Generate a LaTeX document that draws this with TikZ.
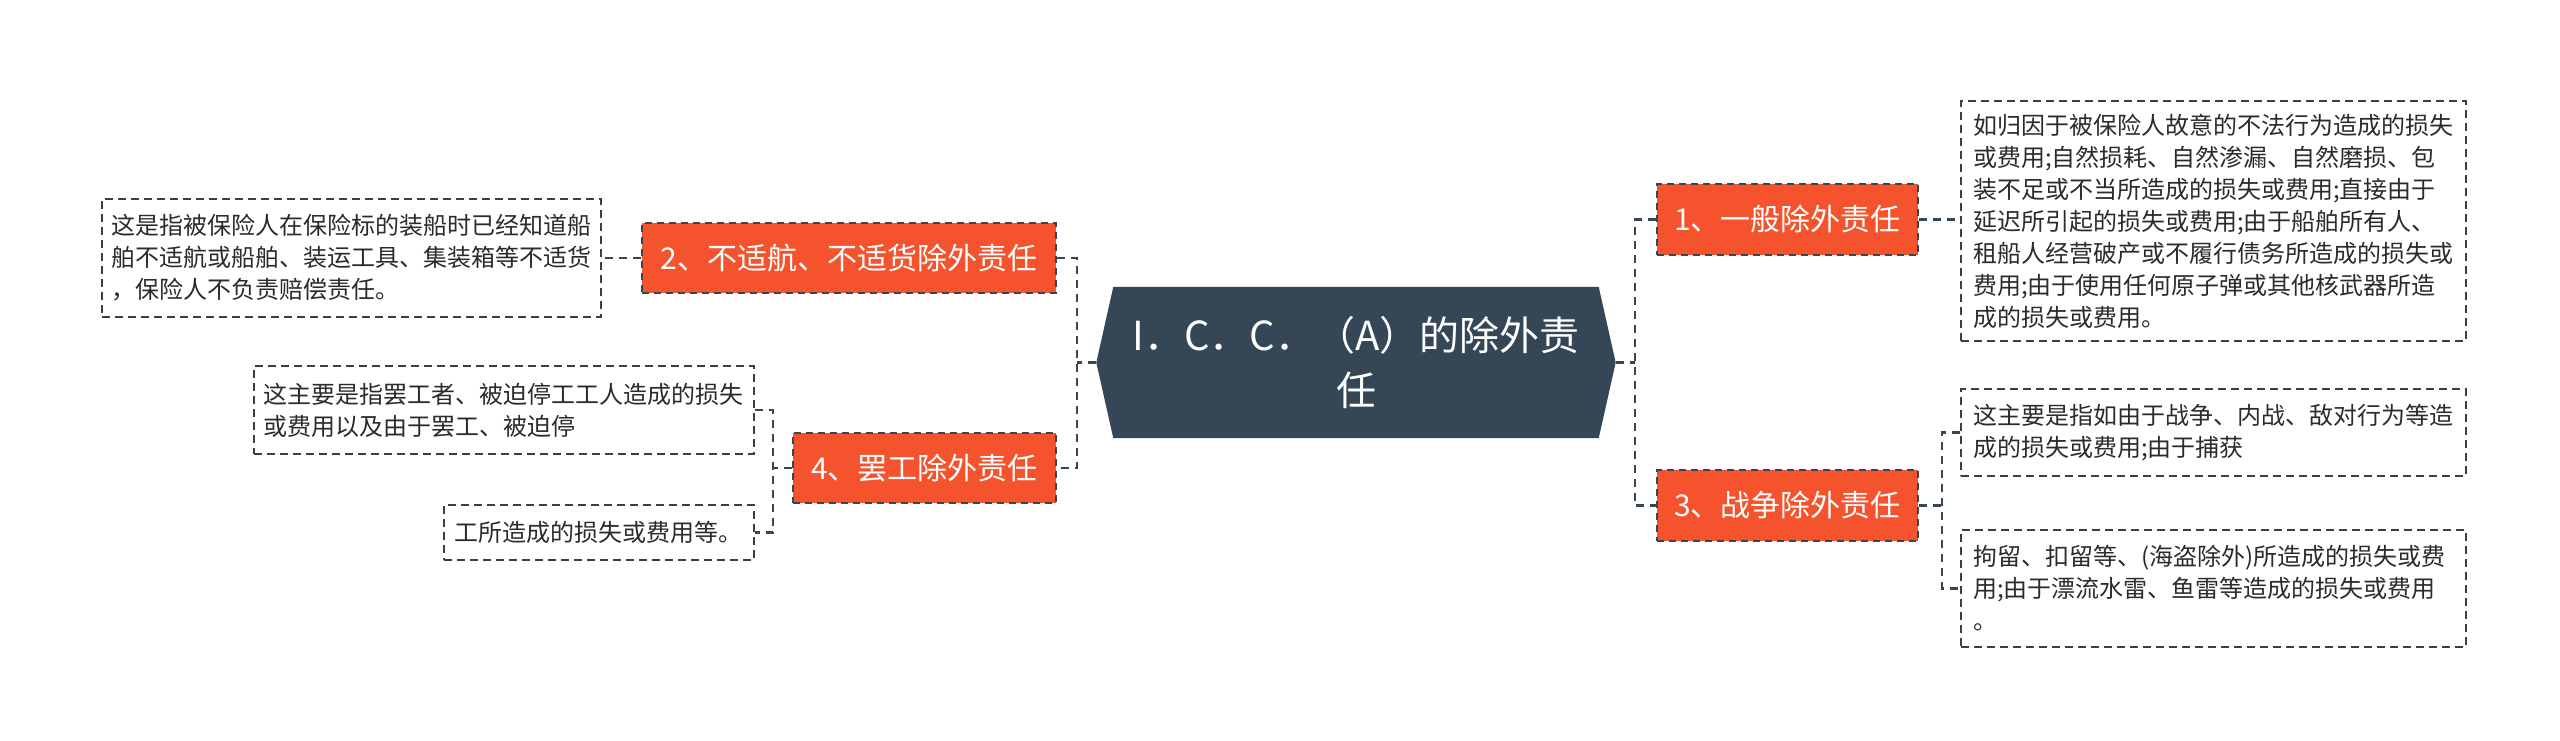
\documentclass[tikz,border=0pt]{standalone}
\usepackage{fontspec}
\setmainfont{Noto Sans CJK SC}
\pgfdeclarelayer{bg}
\pgfsetlayers{bg,main}
\definecolor{orng}{HTML}{F4532E}
\definecolor{slate}{HTML}{354657}
\definecolor{bord}{HTML}{3A3F45}
\definecolor{txt}{HTML}{2B2B2B}
\tikzset{
 centre/.style={text=white, font=\fontsize{40}{55}\selectfont, align=center, inner sep=0pt, minimum width=519pt, minimum height=151pt},
 topic/.style={fill=orng, draw=slate, dash pattern=on 7pt off 5pt, line width=2pt, text=white, font=\fontsize{30}{36}\selectfont, inner sep=0pt},
 leaf/.style={draw=bord, dash pattern=on 8pt off 5pt, line width=1.8pt, text=txt, font=\fontsize{24}{32}\selectfont, align=left, inner sep=0pt},
 conn/.style={draw=slate, dash pattern=on 8pt off 6pt, line width=2.5pt},
}
\begin{document}
\begin{tikzpicture}[x=1pt,y=-1pt]
\useasboundingbox (0,0) rectangle (2560,740);
\begin{pgfonlayer}{bg}
\fill[white] (0,0) rectangle (2560,740);
\end{pgfonlayer}

% centre
\node[centre] (c) at (1356,362.5) {I．C．C．（A）的除外责\\任};
\begin{pgfonlayer}{bg}
\fill[slate] (c.west) -- ([xshift=17pt]c.north west) -- ([xshift=-17pt]c.north east) -- (c.east) -- ([xshift=-17pt]c.south east) -- ([xshift=17pt]c.south west) -- cycle;
\end{pgfonlayer}

% topics
\node[topic, minimum width=261pt, minimum height=71pt] (n1) at (1787.5,219.5) {1、一般除外责任};
\node[topic, minimum width=261pt, minimum height=71pt] (n3) at (1787.5,505.5) {3、战争除外责任};
\node[topic, minimum width=414pt, minimum height=70pt] (n2) at (849,258) {2、不适航、不适货除外责任};
\node[topic, minimum width=263pt, minimum height=70pt] (n4) at (924.5,468) {4、罢工除外责任};

% leaves
\node[leaf, text width=481pt, minimum width=505pt, minimum height=240pt] (b1) at (2213.5,221) {如归因于被保险人故意的不法行为造成的损失\\或费用;自然损耗、自然渗漏、自然磨损、包\\装不足或不当所造成的损失或费用;直接由于\\延迟所引起的损失或费用;由于船舶所有人、\\租船人经营破产或不履行债务所造成的损失或\\费用;由于使用任何原子弹或其他核武器所造\\成的损失或费用。};
\node[leaf, text width=481pt, minimum width=505pt, minimum height=87pt] (b3a) at (2213.5,432.5) {这主要是指如由于战争、内战、敌对行为等造\\成的损失或费用;由于捕获};
\node[leaf, text width=481pt, minimum width=505pt, minimum height=117pt] (b3b) at (2213.5,588.5) {拘留、扣留等、(海盗除外)所造成的损失或费\\用;由于漂流水雷、鱼雷等造成的损失或费用\\。};
\node[leaf, text width=481pt, minimum width=499pt, minimum height=118pt] (b2) at (351.5,258) {这是指被保险人在保险标的装船时已经知道船\\舶不适航或船舶、装运工具、集装箱等不适货\\，保险人不负责赔偿责任。};
\node[leaf, text width=481pt, minimum width=500pt, minimum height=88pt] (bC) at (504,410) {这主要是指罢工者、被迫停工工人造成的损失\\或费用以及由于罢工、被迫停};
\node[leaf, text width=289pt, minimum width=310pt, minimum height=55pt] (bD) at (599,532.5) {工所造成的损失或费用等。};

% junctions
\coordinate (rj) at (1635,362.5);
\coordinate (lj) at (1077,362.5);
\coordinate (j3) at (1942,505.5);
\coordinate (j4) at (773,468);

% connectors
\draw[conn] (c.east) -- (rj);
\draw[conn] (n1.west) -- (n1.west -| rj) -- (n3.west -| rj) -- (n3.west);
\draw[conn] (c.west) -- (lj);
\draw[conn] (n2.east) -- (n2.east -| lj) -- (n4.east -| lj) -- (n4.east);
\draw[conn] (n1.east) -- (b1.west |- n1.east);
\draw[conn] (n3.east) -- (j3);
\draw[conn] (b3a.west) -- (b3a.west -| j3) -- (b3b.west -| j3) -- (b3b.west);
\draw[conn] (n2.west) -- (b2.east |- n2.west);
\draw[conn] (n4.west) -- (j4);
\draw[conn] (bC.east) -- (bC.east -| j4) -- (bD.east -| j4) -- (bD.east);
\end{tikzpicture}
\end{document}
